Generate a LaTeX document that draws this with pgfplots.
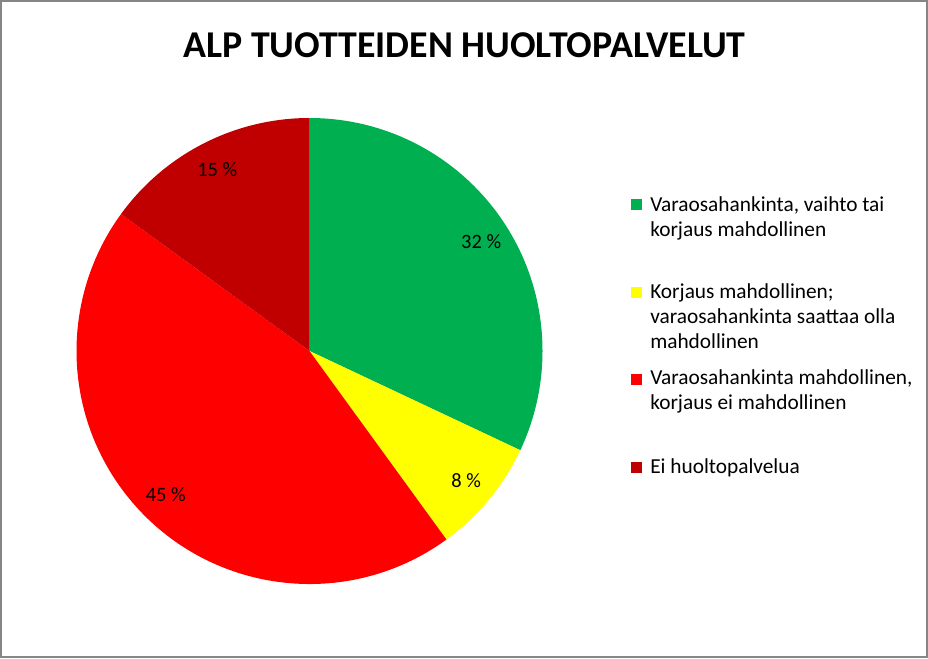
\documentclass[border=0pt]{standalone}
\usepackage{pgfplots}
\pgfplotsset{compat=1.18}
\usetikzlibrary{calc}
\usepackage{fontspec}
\setmainfont{Carlito}
\definecolor{cgreen}{HTML}{00B050}
\definecolor{cyellow}{HTML}{FFFF00}
\definecolor{cred}{HTML}{FF0000}
\definecolor{cdark}{HTML}{C00000}
\definecolor{cborder}{HTML}{868686}
% pie data (percent)
\def\vA{32}\def\vB{8}\def\vC{45}\def\vD{15}
\begin{document}
\begin{tikzpicture}[x=0.75pt,y=0.75pt]
\path (0,0) rectangle (928,658);
\begin{axis}[at={(0,0)},anchor=south west,scale only axis,
  width=696pt,height=493.5pt,xmin=0,xmax=928,ymin=0,ymax=658,
  y dir=reverse,hide axis,clip=false]
\pgfplotsextra{
  \def\R{174.75pt}
  \xdef\cum{90}
  \foreach \v/\c in {\vA/cgreen,\vB/cyellow,\vC/cred,\vD/cdark}{
    \pgfmathsetmacro\s{\cum}
    \pgfmathsetmacro\e{\cum-\v*3.6}
    \pgfmathsetmacro\m{(\s+\e)/2}
    \fill[\c] (axis cs:309.5,351) -- ++(\s:\R) arc[start angle=\s,end angle=\e,radius=\R] -- cycle;
    \node[font=\fontsize{15.3}{18}\selectfont,text=black,inner sep=0pt] at ($(axis cs:309.5,351)+(\m:152.5pt)$) {\v{} \%};
    \xdef\cum{\e}
  }
}
% legend
\pgfplotsextra{
  \begin{scope}[every node/.style={anchor=base west,inner sep=0pt,font=\fontsize{16}{19}\selectfont}]
  \fill[cgreen] (axis cs:631,199) rectangle (axis cs:642,210);
  \node at (axis cs:650,211.7) {Varaosahankinta, vaihto tai};
  \node at (axis cs:650,236.7) {korjaus mahdollinen};
  \fill[cyellow] (axis cs:631,286.5) rectangle (axis cs:642,297.5);
  \node at (axis cs:650,298.3) {Korjaus mahdollinen;};
  \node at (axis cs:650,323.3) {varaosahankinta saattaa olla};
  \node at (axis cs:650,348.3) {mahdollinen};
  \fill[cred] (axis cs:631,373.5) rectangle (axis cs:642,384.5);
  \node at (axis cs:650,384.3) {Varaosahankinta mahdollinen,};
  \node at (axis cs:650,409.3) {korjaus ei mahdollinen};
  \fill[cdark] (axis cs:631,461.5) rectangle (axis cs:642,472.5);
  \node at (axis cs:650,473.3) {Ei huoltopalvelua};
  \end{scope}
  \node[anchor=base,inner sep=0pt,font=\fontsize{28.4}{32}\selectfont\bfseries] at (axis cs:464.5,57) {ALP TUOTTEIDEN HUOLTOPALVELUT};
}
\end{axis}
\draw[cborder,line width=1.5pt] (0.75pt,0.75pt) rectangle (695.25pt,492.75pt);
\end{tikzpicture}
\end{document}
